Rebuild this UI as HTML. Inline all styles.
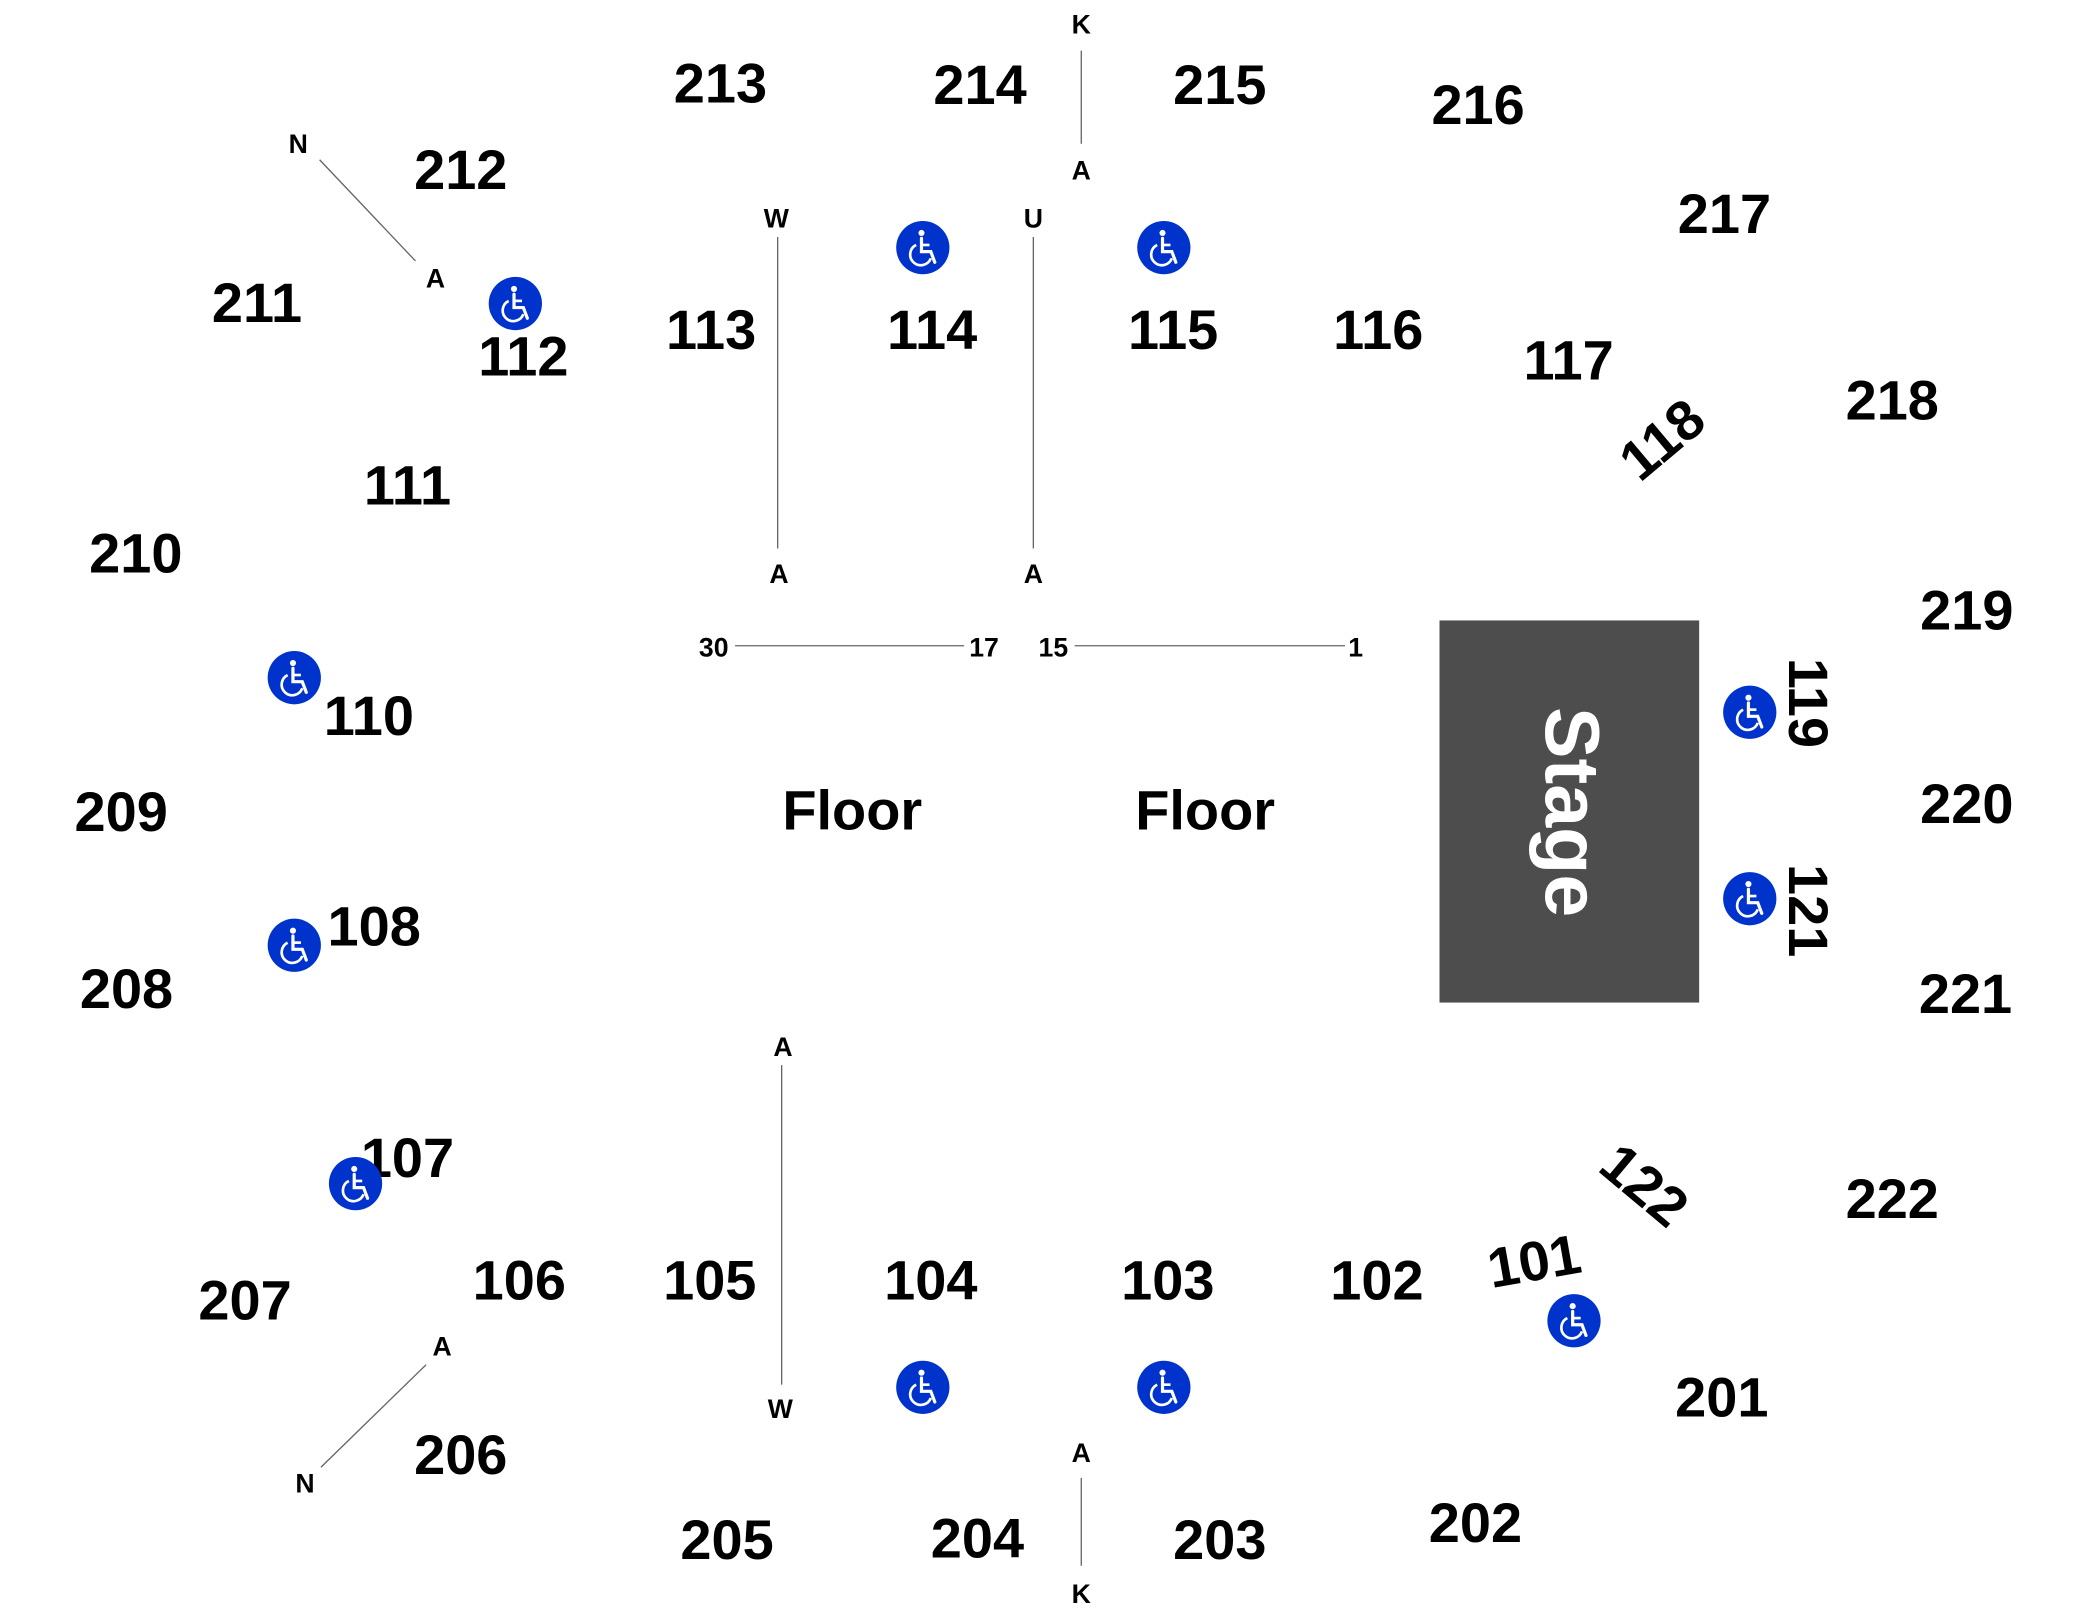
<!DOCTYPE html>
<html><head><meta charset="utf-8"><style>html,body{margin:0;padding:0;background:#fff}svg{display:block}</style></head>
<body>
<svg width="2088" height="1619" viewBox="0 0 1568 1216" preserveAspectRatio="none" xmlns="http://www.w3.org/2000/svg">
<defs>
<g id="wc">
<circle r="20" fill="#0033cc"/>
<circle cx="-1" cy="-11" r="2.3" fill="#fff"/>
<path d="M-1,-7 L-1,3 L6,3 L9,11" stroke="#fff" stroke-width="2.4" fill="none" stroke-linecap="round"/>
<path d="M-1,-2 L5,-2" stroke="#fff" stroke-width="2" fill="none"/>
<path d="M-5,-2 A8,8 0 1 0 6,8" stroke="#fff" stroke-width="2" fill="none"/>
</g>
</defs>
<rect x="1081" y="466" width="195" height="287" fill="#4d4d4d"/>
<text transform="translate(1180,610) rotate(90)" text-anchor="middle" dominant-baseline="central" font-family="Liberation Sans, sans-serif" font-weight="bold" font-size="58" fill="#fff">Stage</text>
<g stroke="#666" stroke-width="1" fill="none">
<line x1="812" y1="38" x2="812" y2="108"/>
<line x1="584" y1="178" x2="584" y2="412"/>
<line x1="776" y1="178" x2="776" y2="412"/>
<line x1="240" y1="120" x2="312" y2="196"/>
<line x1="552" y1="485" x2="724" y2="485"/>
<line x1="807" y1="485" x2="1010" y2="485"/>
<line x1="587" y1="800" x2="587" y2="1040"/>
<line x1="320" y1="1025" x2="241" y2="1102"/>
<line x1="812" y1="1110" x2="812" y2="1176"/>
</g>
<g font-family="Liberation Sans, sans-serif" font-weight="bold" font-size="20" text-anchor="middle" fill="#000">
<text x="812" y="25">K</text><text x="812" y="135">A</text>
<text x="583" y="171">W</text><text x="776" y="171">U</text>
<text x="585" y="438">A</text><text x="776" y="438">A</text>
<text x="224" y="115">N</text><text x="327" y="216">A</text>
<text x="536" y="493">30</text><text x="739" y="493">17</text>
<text x="791" y="493">15</text><text x="1018" y="493">1</text>
<text x="588" y="793">A</text><text x="586" y="1065">W</text>
<text x="332" y="1018">A</text><text x="229" y="1121">N</text>
<text x="812" y="1098">A</text><text x="812" y="1204">K</text>
</g>
<g font-family="Liberation Sans, sans-serif" font-weight="bold" font-size="42" text-anchor="middle" fill="#000">
<text x="541" y="77">213</text><text x="736" y="78">214</text><text x="916" y="78">215</text>
<text x="1110" y="93">216</text><text x="1295" y="175">217</text><text x="1421" y="315">218</text>
<text x="1477" y="473">219</text><text x="1477" y="618">220</text><text x="1476" y="761">221</text>
<text x="1421" y="915">222</text><text x="1293" y="1064">201</text><text x="1108" y="1158">202</text>
<text x="916" y="1171">203</text><text x="734" y="1170">204</text><text x="546" y="1171">205</text>
<text x="346" y="1107">206</text><text x="184" y="991">207</text><text x="95" y="757">208</text>
<text x="91" y="624">209</text><text x="102" y="430">210</text><text x="193" y="242">211</text>
<text x="346" y="142">212</text>
<text x="306" y="379">111</text><text x="393" y="282">112</text><text x="534" y="262">113</text>
<text x="700" y="262">114</text><text x="881" y="262">115</text><text x="1035" y="262">116</text>
<text x="1178" y="285">117</text>
<text x="1034" y="976">102</text><text x="877" y="976">103</text><text x="699" y="976">104</text>
<text x="533" y="976">105</text><text x="390" y="976">106</text><text x="306" y="884">107</text>
<text x="281" y="710">108</text><text x="277" y="552">110</text>
<text x="640" y="623" font-size="42">Floor</text><text x="905" y="623" font-size="42">Floor</text>
<text transform="translate(1248,330) rotate(-40)" dominant-baseline="central">118</text>
<text transform="translate(1358,528) rotate(90)" dominant-baseline="central">119</text>
<text transform="translate(1358,684) rotate(90)" dominant-baseline="central">121</text>
<text transform="translate(1235,890) rotate(40)" dominant-baseline="central">122</text>
<text transform="translate(1152,947) rotate(-10)" dominant-baseline="central">101</text>
</g>
<use href="#wc" x="693" y="186"/><use href="#wc" x="874" y="186"/>
<use href="#wc" x="387" y="228"/><use href="#wc" x="221" y="509"/>
<use href="#wc" x="221" y="710"/><use href="#wc" x="267" y="889"/>
<use href="#wc" x="693" y="1042"/><use href="#wc" x="874" y="1042"/>
<use href="#wc" x="1182" y="992"/><use href="#wc" x="1314" y="535"/>
<use href="#wc" x="1314" y="675"/>
</svg>
</body></html>
